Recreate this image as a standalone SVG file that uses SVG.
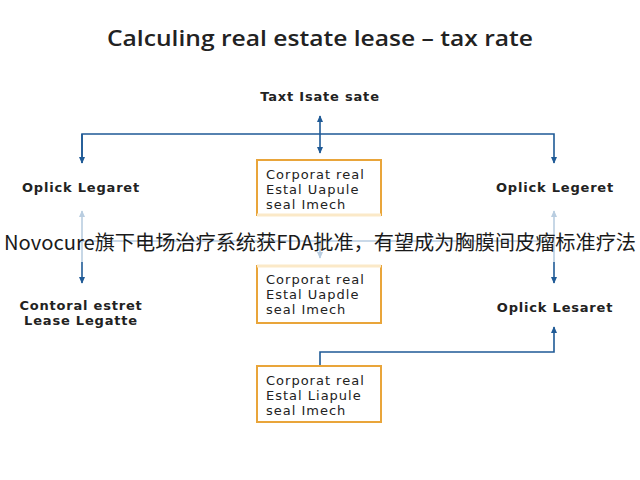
<svg xmlns="http://www.w3.org/2000/svg" width="640" height="480" viewBox="0 0 640 480">
<style>
.title{font-family:"Open Sans","Noto Sans",sans-serif;font-size:22px;font-weight:600;fill:#222;text-anchor:middle}
.lbl{font-family:"DejaVu Sans","Noto Sans",sans-serif;font-size:13px;letter-spacing:0.8px;font-weight:bold;fill:#222;text-anchor:middle}
.box{fill:#fff;stroke:#e9a53a;stroke-width:2}
.bt{font-family:"DejaVu Sans","Noto Sans",sans-serif;font-size:13px;letter-spacing:1px;fill:#222}
.ln{fill:none;stroke:#1f5a96;stroke-width:1.6}
.fl{fill:none;stroke:#b9cde0;stroke-width:1.6}
.wm{font-family:"Noto Sans CJK SC","Noto Sans",sans-serif;font-size:20px;fill:#1a1a1a}
</style>
<defs>
<marker id="ah" viewBox="0 0 10 10" refX="8" refY="5" markerWidth="5" markerHeight="5" orient="auto-start-reverse"><path d="M0,1 L9,5 L0,9 Z" fill="#1f5a96"/></marker>
<marker id="fh" viewBox="0 0 10 10" refX="8" refY="5" markerWidth="5" markerHeight="5" orient="auto-start-reverse"><path d="M0,1 L9,5 L0,9 Z" fill="#b9cde0"/></marker>
</defs>
<rect width="640" height="480" fill="#fff"/>
<text class="title" x="320" y="46" textLength="426" lengthAdjust="spacingAndGlyphs">Calculing real estate lease – tax rate</text>
<g id="connectors">
<line class="ln" x1="320" y1="116" x2="320" y2="153" marker-start="url(#ah)" marker-end="url(#ah)"/>
<polyline class="ln" points="82,163 82,134 554,134 554,163" marker-end="url(#ah)"/>
<line class="ln" x1="82" y1="134" x2="82" y2="163" marker-end="url(#ah)"/>
<line class="fl" x1="82" y1="262" x2="82" y2="211" marker-end="url(#fh)"/>
<line class="ln" x1="82" y1="262" x2="82" y2="283" marker-end="url(#ah)"/>
<line class="fl" x1="554" y1="262" x2="554" y2="211" marker-end="url(#fh)"/>
<line class="ln" x1="554" y1="262" x2="554" y2="283" marker-end="url(#ah)"/>
<polyline class="fl" points="82,241 554,241"/>
<line class="fl" x1="320" y1="241" x2="320" y2="258" marker-end="url(#fh)"/>
<polyline class="ln" points="320,366 320,352 554,352 554,327" marker-end="url(#ah)"/>
</g>
<g id="top"><text class="lbl" x="320" y="101">Taxt Isate sate</text></g>
<g id="box1">
<rect class="box" x="257" y="160" width="124" height="55"/>
<line x1="257" y1="215" x2="381" y2="215" stroke="#fbe9c8" stroke-width="3"/>
<text class="bt" x="266" y="178.5">Corporat real</text>
<text class="bt" x="266" y="193.5">Estal Uapule</text>
<text class="bt" x="266" y="208.5">seal Imech</text>
</g>
<g id="left1"><text class="lbl" x="81" y="192">Oplick Legaret</text></g>
<g id="right1"><text class="lbl" x="555" y="192">Oplick Legeret</text></g>
<g id="box2">
<rect class="box" x="257" y="266" width="124" height="57"/>
<line x1="257" y1="266" x2="381" y2="266" stroke="#fbe9c8" stroke-width="3"/>
<text class="bt" x="266" y="283.5">Corporat real</text>
<text class="bt" x="266" y="298.5">Estal Uapdle</text>
<text class="bt" x="266" y="313.5">seal Imech</text>
</g>
<g id="left2">
<text class="lbl" x="81" y="310">Contoral estret</text>
<text class="lbl" x="81" y="325">Lease Legatte</text>
</g>
<g id="right2"><text class="lbl" x="555" y="312">Oplick Lesaret</text></g>
<g id="box3">
<rect class="box" x="257" y="366" width="124" height="56"/>
<text class="bt" x="266" y="384.5">Corporat real</text>
<text class="bt" x="266" y="399.5">Estal Liapule</text>
<text class="bt" x="266" y="414.5">seal Imech</text>
</g>
<text class="wm" x="4" y="250" textLength="632" lengthAdjust="spacingAndGlyphs">Novocure旗下电场治疗系统获FDA批准，有望成为胸膜间皮瘤标准疗法</text>
</svg>
